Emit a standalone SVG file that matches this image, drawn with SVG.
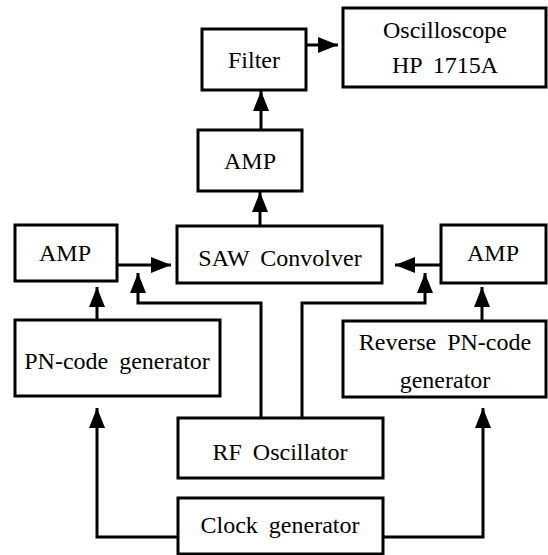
<svg xmlns="http://www.w3.org/2000/svg" width="548" height="555" viewBox="0 0 548 555">
<style>
.box{fill:#fff;stroke:#000;stroke-width:3}
.t{font-family:"Liberation Serif","Times New Roman",serif;font-size:24px;fill:#000;text-anchor:middle;dominant-baseline:central;word-spacing:5px}
.c{fill:none;stroke:#000;stroke-width:3}
</style>
<defs>
<marker id="ah" markerUnits="userSpaceOnUse" markerWidth="20" markerHeight="16" refX="20" refY="8" orient="auto">
<path d="M0,0 L20,8 L0,16 Z" fill="#000"/>
</marker>
</defs>
<g id="connectors">
<path class="c" d="M306,45 L338,45" marker-end="url(#ah)"/>
<path class="c" d="M261,130 L261,91" marker-end="url(#ah)"/>
<path class="c" d="M260,226 L260,192" marker-end="url(#ah)"/>
<path class="c" d="M117,265 L171,265" marker-end="url(#ah)"/>
<path class="c" d="M441,265 L395,265" marker-end="url(#ah)"/>
<path class="c" d="M261,418 L261,303 L138,303 L138,273" marker-end="url(#ah)"/>
<path class="c" d="M302,418 L302,303 L425,303 L425,273" marker-end="url(#ah)"/>
<path class="c" d="M97,320 L97,287" marker-end="url(#ah)"/>
<path class="c" d="M482,321 L482,287" marker-end="url(#ah)"/>
<path class="c" d="M178,537 L97,537 L97,408" marker-end="url(#ah)"/>
<path class="c" d="M383,537 L483,537 L483,408" marker-end="url(#ah)"/>
</g>
<g id="filter"><rect class="box" x="202" y="29" width="104" height="61"/><text class="t" x="254" y="60">Filter</text></g>
<g id="oscilloscope"><rect class="box" x="343" y="8" width="203" height="79"/><text class="t" x="445" y="30">Oscilloscope</text><text class="t" x="445" y="65">HP 1715A</text></g>
<g id="amp-top"><rect class="box" x="198" y="130" width="104" height="61"/><text class="t" x="250" y="161">AMP</text></g>
<g id="amp-left"><rect class="box" x="15" y="225" width="102" height="56"/><text class="t" x="65" y="253">AMP</text></g>
<g id="saw"><rect class="box" x="177" y="226" width="205" height="57"/><text class="t" x="280" y="258">SAW Convolver</text></g>
<g id="amp-right"><rect class="box" x="441" y="225" width="105" height="58"/><text class="t" x="493" y="253">AMP</text></g>
<g id="pn"><rect class="box" x="15" y="320" width="205" height="76"/><text class="t" x="117" y="361">PN-code generator</text></g>
<g id="rpn"><rect class="box" x="343" y="321" width="203" height="76"/><text class="t" x="445" y="342">Reverse PN-code</text><text class="t" x="445" y="380">generator</text></g>
<g id="rf"><rect class="box" x="178" y="418" width="205" height="60"/><text class="t" x="280" y="452">RF Oscillator</text></g>
<g id="clock"><rect class="box" x="178" y="498" width="205" height="56"/><text class="t" x="280" y="525">Clock generator</text></g>
</svg>
